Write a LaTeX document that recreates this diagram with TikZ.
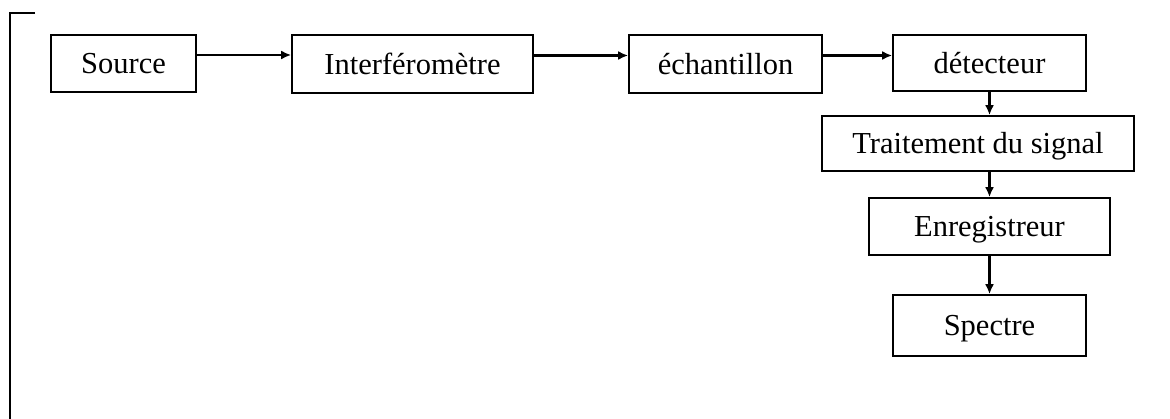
\documentclass[tikz,border=0pt]{standalone}
\usepackage{fontspec}
\setmainfont{Liberation Serif}
\usetikzlibrary{arrows.meta,calc}
\tikzset{
  blk/.style={draw=black, line width=1.7pt, inner sep=0pt, fill=white,
    font=\fontsize{30.5}{33}\selectfont, text height=25.5pt, text depth=4.5pt},
  arr/.style={line width=2.1pt, -{Latex[length=10pt,width=9pt]}},
  frameline/.style={line width=1.6pt}
}
\begin{document}
\begin{tikzpicture}[x=1pt,y=-1pt]
  \useasboundingbox (0,0) rectangle (1170,419);
  % partial frame in the upper left
  \coordinate (f1) at (35,13);
  \coordinate (f2) at (10,13);
  \coordinate (f3) at (10,419);
  \draw[frameline] (f1) -- (f2) -- (f3);

  % top row
  \node[blk, minimum width=145pt, minimum height=57pt] (src) at (123.5,63.5) {Source};
  \node[blk, minimum width=241pt, minimum height=58pt] (itf) at (412.5,64) {Interféromètre};
  \node[blk, minimum width=193pt, minimum height=58pt] (ech) at (725.5,64) {échantillon};
  \node[blk, minimum width=193pt, minimum height=56pt] (det) at (989.5,63) {détecteur};

  % vertical chain
  \node[blk, minimum width=312pt, minimum height=55pt] (trt) at (978,143.5) {Traitement du signal};
  \node[blk, minimum width=241pt, minimum height=57pt] (enr) at (989.5,226.5) {Enregistreur};
  \node[blk, minimum width=193pt, minimum height=61pt] (spc) at (989.5,325.5) {Spectre};

  % connectors
  \draw[arr] ([yshift=8.5pt]src.east) -- ([yshift=8.5pt]src.east -| itf.west);
  \draw[arr] ([yshift=8.5pt]itf.east) -- ([yshift=8.5pt]itf.east -| ech.west);
  \draw[arr] ([yshift=8.5pt]ech.east) -- ([yshift=8.5pt]ech.east -| det.west);
  \draw[arr] (det.south) -- (det.south |- trt.north);
  \draw[arr] (det.south |- trt.south) -- (det.south |- enr.north);
  \draw[arr, line width=2.7pt] (enr.south) -- (spc.north);
\end{tikzpicture}
\end{document}
